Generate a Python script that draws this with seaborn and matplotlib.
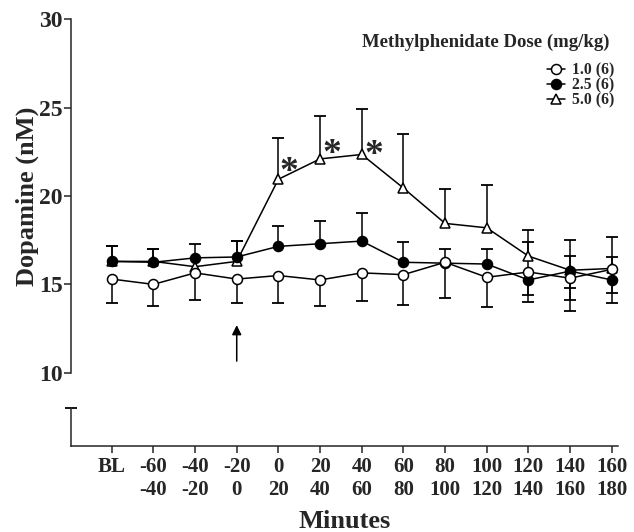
import numpy as np
import matplotlib
matplotlib.use('Agg')
import matplotlib.pyplot as plt
import seaborn as sns

time_labels = ['BL', '-60\n-40', '-40\n-20', '-20\n0', '0\n20', '20\n40', '40\n60',
               '60\n80', '80\n100', '100\n120', '120\n140', '140\n160', '160\n180']
dose_labels = ['1.0 (6)', '2.5 (6)', '5.0 (6)']

# dopamine (nM) per dose, with SEM drawn up / down as in the figure
da_10 = [15.3, 15.0, 15.65, 15.3, 15.5, 15.25, 15.65, 15.55, 16.25, 15.4, 15.7, 15.35, 15.85]
da_10_dn = [1.37, 1.23, 1.53, 1.37, 1.57, 1.48, 1.58, 1.72, 2.02, 1.66, 1.68, 1.23, 1.9]
da_10_up = [0, 0, 0, 0, 0, 0, 0, 0, 0, 0, 1.69, 1.23, 1.83]

da_25 = [16.3, 16.25, 16.5, 16.55, 17.15, 17.3, 17.45, 16.25, 16.2, 16.15, 15.25, 15.75, 15.25]
da_25_up = [0.87, 0.75, 0.8, 0.9, 1.15, 1.3, 1.6, 1.17, 0.78, 0.83, 0, 0, 0]
da_25_dn = [0, 0, 0, 0, 0, 0, 0, 0, 0, 0, 0.84, 0.97, 0.75]

da_50 = [16.3, 16.3, 16.0, 16.3, 20.95, 22.1, 22.35, 20.45, 18.45, 18.2, 16.6, 15.8, 15.9]
da_50_up = [0.85, 0.7, 0, 1.15, 2.32, 2.4, 2.55, 3.05, 1.95, 2.4, 1.45, 1.7, 0.67]
da_50_dn = [0, 0, 0, 0, 0, 0, 0, 0, 0, 0, 0, 2.3, 0]

star_idx = [4.24, 5.28, 6.28]
star_y = [21.88, 22.89, 22.83]

sns.set_style('ticks')
plt.rcParams['font.family'] = ['Liberation Serif', 'DejaVu Serif']
plt.rcParams['font.weight'] = 'bold'

fig = plt.figure(figsize=(6.34, 5.32), dpi=100)
ax = fig.add_axes([0.112, 0.2994, 0.8628, 0.6643])
ax_low = fig.add_axes([0.112, 0.1617, 0.8628, 0.0714], sharex=ax)

x = np.arange(len(time_labels))


def draw_err(ax, y, dn, up, z):
    y, dn, up = np.asarray(y), np.asarray(dn), np.asarray(up)
    for err, sign in ((up, 1), (dn, -1)):
        m = err > 0
        ends = y[m] + sign * err[m]
        ax.vlines(x[m], y[m], ends, color='black', lw=1.1, zorder=z)
        ax.plot(x[m], ends, ls='none', marker='_', ms=8, mew=1.3, color='black', zorder=z)


series = [
    (da_50, da_50_dn, da_50_up, '^', 'white', 3, dose_labels[2]),
    (da_25, da_25_dn, da_25_up, 'o', 'black', 4, dose_labels[1]),
    (da_10, da_10_dn, da_10_up, 'o', 'white', 5, dose_labels[0]),
]
handles = {}
for vals, dn, up, mk, fc, z, lab in series:
    draw_err(ax, vals, dn, up, 2)
    sns.lineplot(x=x, y=vals, ax=ax, color='black', lw=1.1, marker=mk,
                 markersize=7.2 if mk == 'o' else 7.8, markerfacecolor=fc,
                 markeredgecolor='black', markeredgewidth=1.1, zorder=z)
    handles[lab] = ax.lines[-1]

for xi, yi in zip(star_idx, star_y):
    ax.annotate('*', xy=(xi, yi), xytext=(0, -4), textcoords='offset points',
                fontsize=27, fontweight='bold', ha='center', va='center_baseline')

ax.annotate('', xy=(3, 12.85), xytext=(3, 10.5),
            arrowprops=dict(arrowstyle='-|>', color='black', lw=1.1, mutation_scale=14))

ax.set_xlim(-0.977, 12.15)
ax.set_ylim(10, 30)
ax.set_yticks([10, 15, 20, 25, 30])
ax.tick_params(axis='y', labelsize=17, length=5, width=1.1, pad=1)
ax.tick_params(axis='x', bottom=False, labelbottom=False)
for s in ['top', 'right', 'bottom']:
    ax.spines[s].set_visible(False)
ax.spines['left'].set_linewidth(1.1)
ax.set_ylabel('Dopamine (nM)', fontsize=19, fontweight='bold', labelpad=0)

ax_low.set_ylim(0, 1)
ax_low.set_yticks([])
ax_low.set_xticks(x, time_labels)
ax_low.tick_params(axis='x', labelsize=15, length=5, width=1.1, pad=3)
for s in ['top', 'right']:
    ax_low.spines[s].set_visible(False)
ax_low.spines['left'].set_linewidth(1.1)
ax_low.spines['bottom'].set_linewidth(1.1)
ax_low.plot([0], [1], marker='_', ms=8, mew=1.3, color='black',
            transform=ax_low.transAxes, clip_on=False)
ax_low.set_xlabel('Minutes', fontsize=19, fontweight='bold', labelpad=7)

fig.text(610 / 634, 1 - 42 / 532, 'Methylphenidate Dose (mg/kg)', ha='right', va='center',
         fontsize=13.5, fontweight='bold')
fig.legend([handles[l] for l in dose_labels], dose_labels, loc='upper right',
           bbox_to_anchor=(614 / 634, 1 - 62 / 532), frameon=False,
           borderpad=0, borderaxespad=0, handlelength=1.1, handletextpad=0.45,
           labelspacing=-0.05, prop={'weight': 'bold', 'size': 11.3})

fig.savefig('out.png', dpi=100)
